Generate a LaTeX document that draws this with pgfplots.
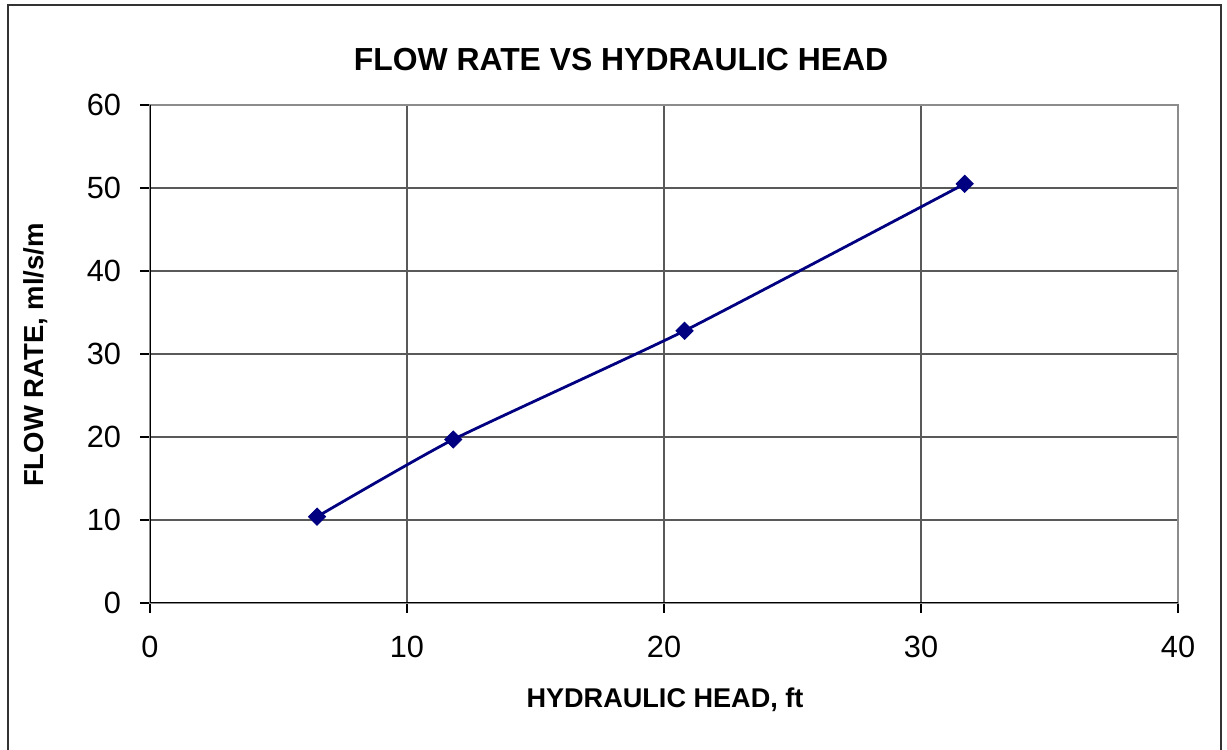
\documentclass[border=0pt]{standalone}
\usepackage{pgfplots}
\pgfplotsset{compat=1.18}
\usepackage{fontspec}
\setmainfont{Liberation Sans}
\definecolor{navy}{RGB}{0,0,128}
\begin{document}
\begin{tikzpicture}
\useasboundingbox (0,0) rectangle (613.5bp,375bp);
\fill[white] (0,0) rectangle (613.5bp,375bp);
\draw[line width=1bp,black!80] (4bp,-5bp) -- (4bp,372.5bp) -- (610.5bp,372.5bp) -- (610.5bp,-5bp);
\begin{axis}[
  at={(75bp,73.5bp)}, anchor=origin,
  scale only axis, width=514bp, height=249bp,
  xmin=0, xmax=40, ymin=0, ymax=60,
  xtick={0,10,...,40}, ytick={0,10,...,60},
  xtick pos=bottom, ytick pos=left,
  grid=major, grid style={black!65, line width=0.6bp},
  axis line style={black!45, line width=1bp},
  tick style={black, line width=0.8bp},
  tick align=outside, major tick length=5bp,
  /pgf/number format/assume math mode=true,
  ticklabel style={font=\fontsize{15.4}{18}\selectfont},
  xticklabel style={yshift=-8bp},
  yticklabel style={xshift=-6bp},
]
\addplot[navy, line width=1.4bp, smooth, tension=0.3, mark=square*, mark size=3bp, mark options={fill=navy,draw=navy,rotate=45,line width=0.5bp}]
coordinates {(6.5,10.4) (11.8,19.7) (20.8,32.8) (31.7,50.5)};
\draw[black, line width=1bp] (rel axis cs:0,1) -- (rel axis cs:0,0) -- (rel axis cs:1,0);
\end{axis}
\node[font=\bfseries\fontsize{16}{19}\selectfont] at (310.5bp,345bp) {FLOW RATE VS HYDRAULIC HEAD};
\node[font=\bfseries\fontsize{13.6}{16}\selectfont] at (332.5bp,25bp) {HYDRAULIC HEAD, ft};
\node[font=\bfseries\fontsize{13.8}{16}\selectfont, rotate=90] at (18bp,197.5bp) {FLOW RATE, ml/s/m};
\end{tikzpicture}
\end{document}
